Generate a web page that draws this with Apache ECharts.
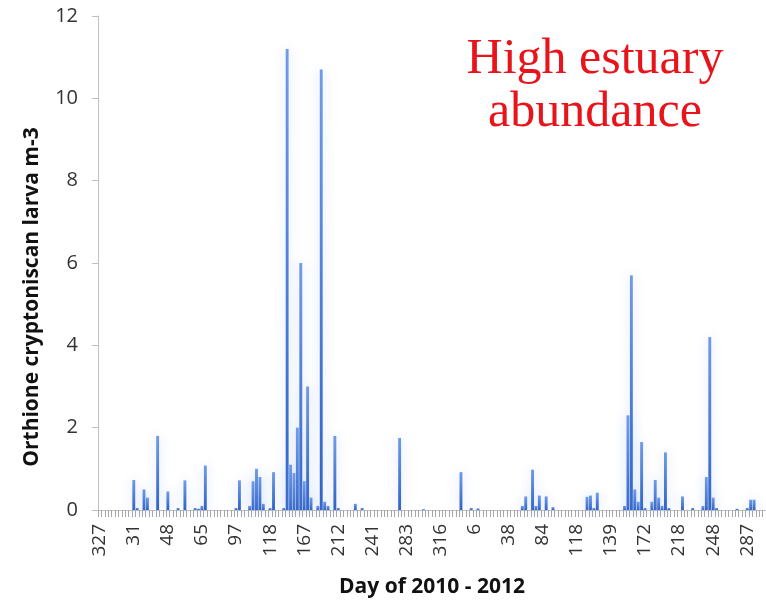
<!DOCTYPE html>
<html>
<head>
<meta charset="utf-8">
<script src="https://cdn.jsdelivr.net/npm/echarts@6/dist/echarts.min.js"></script>
<style>
  html, body { margin: 0; padding: 0; background: #fff; }
  #chart { width: 766px; height: 601px; }
</style>
</head>
<body>
<div id="chart"></div>
<script>
// x axis labels, one every 10 samples
var tickLabels = [327, 31, 48, 65, 97, 118, 167, 212, 241, 283,
                  316, 6, 38, 84, 118, 139, 172, 218, 248, 287];

// larvae per m3, one value per sampling day (196 samples)
var larvae = [
  0, 0, 0, 0, 0, 0, 0, 0, 0, 0,
  0.73, 0.05, 0, 0.5, 0.3, 0, 0, 1.8, 0, 0,
  0.45, 0, 0, 0.05, 0, 0.72, 0, 0, 0.05, 0.03,
  0.1, 1.08, 0, 0, 0, 0, 0, 0, 0, 0,
  0.05, 0.72, 0, 0, 0.1, 0.7, 1.0, 0.8, 0.15, 0,
  0.05, 0.92, 0, 0, 0.05, 11.2, 1.1, 0.9, 2.0, 6.0,
  0.7, 3.0, 0.3, 0, 0.1, 10.7, 0.2, 0.1, 0, 1.8,
  0.05, 0, 0, 0, 0, 0.15, 0, 0.05, 0, 0,
  0, 0, 0, 0, 0, 0, 0, 0, 1.75, 0,
  0, 0, 0, 0, 0, 0.02, 0, 0, 0, 0,
  0, 0, 0, 0, 0, 0, 0.92, 0, 0, 0.05,
  0, 0.04, 0, 0, 0, 0, 0, 0, 0, 0,
  0, 0, 0, 0, 0.1, 0.33, 0, 0.98, 0.1, 0.35,
  0, 0.33, 0, 0.07, 0, 0, 0, 0, 0, 0,
  0, 0, 0, 0.32, 0.35, 0.05, 0.42, 0, 0, 0,
  0, 0, 0, 0, 0.1, 2.3, 5.7, 0.5, 0.2, 1.65,
  0.05, 0, 0.2, 0.73, 0.3, 0.1, 1.4, 0.05, 0, 0,
  0, 0.33, 0, 0, 0.05, 0, 0, 0.1, 0.8, 4.2,
  0.3, 0.05, 0, 0, 0, 0, 0, 0.03, 0, 0,
  0.05, 0.25, 0.25, 0, 0, 0
];

var categories = larvae.map(function(v, i) {
    return i % 10 === 0 ? String(tickLabels[i / 10]) : '';
});

var chart = echarts.init(document.getElementById('chart'));

chart.setOption({
    animation: false,
    backgroundColor: '#fff',
    grid: { left: 98, right: 0, top: 16, bottom: 91, outerBoundsMode: 'none' },
    xAxis: {
        type: 'category',
        data: categories,
        name: 'Day of 2010 - 2012',
        nameLocation: 'middle',
        nameGap: 67,
        nameTextStyle: { fontFamily: 'Open Sans', fontWeight: 'bold', fontSize: 21, color: '#111' },
        axisLine: { lineStyle: { color: '#bfbfbf' } },
        axisTick: { show: true, interval: 0, length: 7, lineStyle: { color: '#a6a6a6', width: 1 } },
        axisLabel: {
            interval: 9,
            rotate: 90,
            margin: 14,
            fontFamily: 'Open Sans',
            fontSize: 19,
            color: '#333'
        }
    },
    yAxis: {
        type: 'value',
        min: 0,
        max: 12,
        interval: 2,
        splitLine: { show: false },
        axisLine: { show: true, lineStyle: { color: '#bfbfbf' } },
        axisTick: { show: true, length: 6, lineStyle: { color: '#bfbfbf' } },
        axisLabel: { margin: 20, fontFamily: 'Open Sans', fontSize: 20, color: '#333' }
    },
    graphic: [
        {
            type: 'text',
            x: 32, y: 297,
            rotation: Math.PI / 2,
            style: {
                text: 'Orthione cryptoniscan larva m-3',
                fontFamily: 'Open Sans', fontWeight: 'bold', fontSize: 21,
                fill: '#111', align: 'center', verticalAlign: 'middle'
            }
        },
        {
            type: 'text',
            x: 595, y: 60,
            style: {
                text: 'High estuary',
                fontFamily: 'Liberation Serif', fontSize: 50,
                fill: '#e8141b', align: 'center', verticalAlign: 'middle'
            }
        },
        {
            type: 'text',
            x: 595, y: 113,
            style: {
                text: 'abundance',
                fontFamily: 'Liberation Serif', fontSize: 50,
                fill: '#e8141b', align: 'center', verticalAlign: 'middle'
            }
        }
    ],
    series: [{
        type: 'bar',
        data: larvae,
        barCategoryGap: '15%',
        itemStyle: {
            color: new echarts.graphic.LinearGradient(0, 0, 0, 1, [
                { offset: 0, color: '#6f9be8' },
                { offset: 1, color: '#2f63c9' }
            ]),
            shadowColor: 'rgba(140, 170, 235, 0.45)',
            shadowBlur: 12
        }
    }]
});
</script>
</body>
</html>
